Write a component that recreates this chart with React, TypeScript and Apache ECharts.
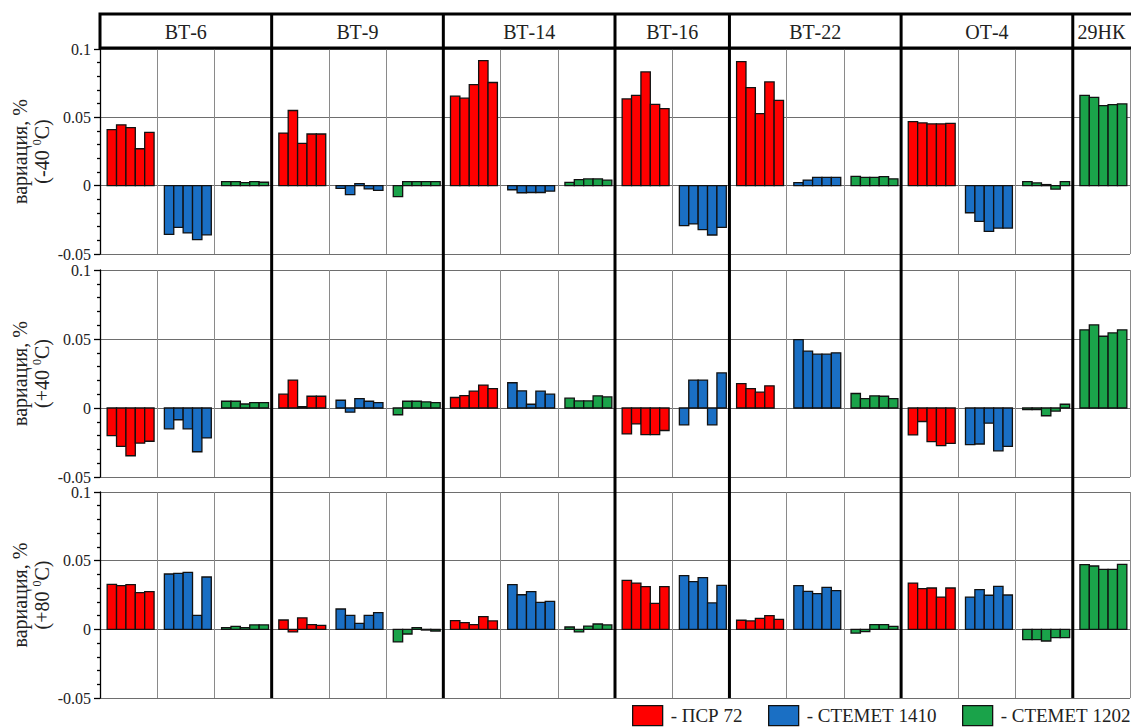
import React, { useEffect, useRef } from "react";
import * as echarts from "echarts";

const FONT = "'Times New Roman', 'Liberation Serif', 'DejaVu Serif', serif";

const groups = ["ВТ-6", "ВТ-9", "ВТ-14", "ВТ-16", "ВТ-22", "ОТ-4", "29НК"];
const materials = ["- ПСР 72", "- СТЕМЕТ 1410", "- СТЕМЕТ 1202"];
const materialColors = ["#ff0000", "#1a6fc4", "#1aa34a"];
// which materials are present in each group (indices into materials)
const groupMaterials = [[0, 1, 2], [0, 1, 2], [0, 1, 2], [0, 1], [0, 1, 2], [0, 1, 2], [2]];

const rowTitles = ["(-40 {sup|0}C)", "(+40 {sup|0}C)", "(+80 {sup|0}C)"];
const yTicks = [-0.05, 0, 0.05, 0.1];

// values per group (null = no cell), 5 samples each
// ---- -40 °C ----
const m40_psr72 = [
  [0.041, 0.0445, 0.0425, 0.027, 0.039],
  [0.0385, 0.055, 0.031, 0.0378, 0.0378],
  [0.0655, 0.064, 0.074, 0.0915, 0.0755],
  [0.0635, 0.066, 0.0832, 0.0595, 0.0563],
  [0.0907, 0.0717, 0.0527, 0.0759, 0.0624],
  [0.0468, 0.0459, 0.0452, 0.0452, 0.0456],
  null,
];
const m40_stemet1410 = [
  [-0.0356, -0.0305, -0.0346, -0.0395, -0.036],
  [-0.002, -0.0066, 0.0015, -0.0024, -0.0034],
  [-0.003, -0.0052, -0.005, -0.005, -0.004],
  [-0.0293, -0.028, -0.0322, -0.0361, -0.0305],
  [0.0022, 0.0041, 0.006, 0.006, 0.006],
  [-0.0198, -0.0261, -0.0334, -0.031, -0.031],
  null,
];
const m40_stemet1202 = [
  [0.003, 0.003, 0.0022, 0.003, 0.0025],
  [-0.008, 0.003, 0.003, 0.003, 0.003],
  [0.0024, 0.0044, 0.0049, 0.0049, 0.004],
  null,
  [0.0068, 0.006, 0.006, 0.0066, 0.005],
  [0.003, 0.002, 0.0008, -0.0025, 0.003],
  [0.066, 0.0646, 0.0585, 0.0593, 0.0598],
];
// ---- +40 °C ----
const p40_psr72 = [
  [-0.02, -0.0278, -0.0346, -0.0254, -0.0241],
  [0.01, 0.0202, 0.001, 0.0085, 0.0085],
  [0.0076, 0.009, 0.0122, 0.0166, 0.0141],
  [-0.0188, -0.0115, -0.0193, -0.0193, -0.0163],
  [0.0176, 0.0141, 0.0115, 0.0161, null],
  [-0.0195, -0.0098, -0.0244, -0.0273, -0.0256],
  null,
];
const p40_stemet1410 = [
  [-0.0151, -0.0085, -0.0151, -0.0317, -0.0217],
  [0.0056, -0.003, 0.0068, 0.0049, 0.0039],
  [0.0183, 0.0124, 0.0027, 0.0122, 0.01],
  [-0.0122, 0.0202, 0.0202, -0.0122, 0.0254],
  [0.0495, 0.0412, 0.039, 0.039, 0.04],
  [-0.0266, -0.0261, -0.011, -0.031, -0.0278],
  null,
];
const p40_stemet1202 = [
  [0.0049, 0.0049, 0.0029, 0.0039, 0.0039],
  [-0.0049, 0.0049, 0.0049, 0.0044, 0.0039],
  [0.0071, 0.0051, 0.0051, 0.0088, 0.008],
  null,
  [0.0105, 0.0068, 0.0088, 0.0085, 0.0068],
  [-0.0012, -0.0012, -0.0056, -0.0022, 0.0027],
  [0.0566, 0.0602, 0.052, 0.0544, 0.0566],
];
// ---- +80 °C ----
const p80_psr72 = [
  [0.0328, 0.0318, 0.0325, 0.0267, 0.0274],
  [0.0068, -0.0019, 0.0083, 0.0034, 0.0029],
  [0.0063, 0.0049, 0.0034, 0.0092, 0.0061],
  [0.0357, 0.0337, 0.0311, 0.0189, 0.0311],
  [0.0066, 0.0061, 0.008, 0.01, 0.0073],
  [0.0337, 0.0296, 0.0301, 0.0235, 0.0301],
  null,
];
const p80_stemet1410 = [
  [0.0403, 0.0408, 0.0415, 0.0102, 0.0381],
  [0.0148, 0.0102, 0.0044, 0.0102, 0.0121],
  [0.0325, 0.0252, 0.0274, 0.0197, 0.0204],
  [0.0391, 0.0347, 0.0376, 0.0192, 0.032],
  [0.0318, 0.0277, 0.026, 0.0306, 0.0282],
  [0.0235, 0.0289, 0.0248, 0.0313, 0.025],
  null,
];
const p80_stemet1202 = [
  [0.0012, 0.0022, 0.0012, 0.0032, 0.0032],
  [-0.0092, -0.0034, 0.0012, -0.0005, -0.0012],
  [0.0017, -0.0019, 0.0024, 0.0039, 0.0032],
  null,
  [-0.0027, -0.0017, 0.0034, 0.0034, 0.0022],
  [-0.0075, -0.0075, -0.0085, -0.0061, -0.0061],
  [0.0471, 0.0461, 0.0437, 0.0437, 0.0473],
];

const rowsData = [
  [m40_psr72, m40_stemet1410, m40_stemet1202],
  [p40_psr72, p40_stemet1410, p40_stemet1202],
  [p80_psr72, p80_stemet1410, p80_stemet1202],
];

// layout
const GRID_LEFT = 100;
const GRID_W = 1030;
const rowLayout = [
  { top: 49, height: 205 },
  { top: 270, height: 207 },
  { top: 492, height: 206 },
];
const HEADER_TOP = 14;
const HEADER_BOTTOM = 48;
const legendLefts = [632, 768, 962];

function buildOption() {
  const cellOf: number[][] = [];
  const groupStart: number[] = [];
  let c = 0;
  groupMaterials.forEach((mats, g) => {
    groupStart[g] = c;
    cellOf[g] = [];
    mats.forEach((m) => {
      cellOf[g][m] = c;
      c++;
    });
  });
  const nCells = c;
  groupStart.push(nCells);
  const cellW = GRID_W / nCells;

  const grids: any[] = [];
  const xAxes: any[] = [];
  const yAxes: any[] = [];
  const series: any[] = [];

  rowLayout.forEach((rl, r) => {
    grids.push({ left: GRID_LEFT, width: GRID_W, top: rl.top, height: rl.height });
    xAxes.push({
      gridIndex: r,
      type: "value",
      min: 0,
      max: nCells,
      interval: 1,
      axisLine: { show: false },
      axisTick: { show: false },
      axisLabel: { show: false },
      splitLine: { show: true, lineStyle: { color: "#8a8a8a", width: 1 } },
    });
    yAxes.push({
      gridIndex: r,
      type: "value",
      min: yTicks[0],
      max: yTicks[yTicks.length - 1],
      interval: 0.05,
      axisLine: { show: true, lineStyle: { color: "#000", width: 1.3 } },
      axisTick: { show: true, length: 6, lineStyle: { color: "#000", width: 1.3 } },
      minorTick: { show: true, splitNumber: 5, length: 3, lineStyle: { color: "#000", width: 1.3 } },
      axisLabel: { fontFamily: FONT, fontSize: 16, color: "#222", margin: 9 },
      splitLine: { show: true, lineStyle: { color: "#6e6e6e", width: 1 } },
    });
    materials.forEach((name, m) => {
      const data: number[][] = [];
      rowsData[r][m].forEach((vals, g) => {
        if (!vals) return;
        const cell = cellOf[g][m];
        vals.forEach((v, b) => {
          if (v === null || v === undefined) return;
          data.push([cell, b, v]);
        });
      });
      const color = materialColors[m];
      series.push({
        type: "custom",
        name,
        xAxisIndex: r,
        yAxisIndex: r,
        coordinateSystem: "cartesian2d",
        encode: { x: 0, y: 2 },
        itemStyle: { color, borderColor: "#111", borderWidth: 1 },
        renderItem: (params: any, api: any) => {
          const cell = api.value(0);
          const b = api.value(1);
          const v = api.value(2);
          const bw = 0.164;
          const x0 = cell + 0.125 + b * bw;
          const p0 = api.coord([x0, 0]);
          const p1 = api.coord([x0 + bw, v]);
          return {
            type: "rect",
            shape: {
              x: p0[0],
              y: Math.min(p0[1], p1[1]),
              width: p1[0] - p0[0],
              height: Math.abs(p1[1] - p0[1]),
            },
            style: { fill: color, stroke: "#111", lineWidth: 1.3 },
          };
        },
        data,
      });
    });
  });

  const graphic: any[] = [];
  graphic.push({
    type: "rect",
    z: 10,
    shape: { x: GRID_LEFT, y: HEADER_TOP, width: GRID_W + 4, height: HEADER_BOTTOM - HEADER_TOP },
    style: { fill: "none", stroke: "#000", lineWidth: 3 },
  });
  groups.forEach((g, i) => {
    const x0 = GRID_LEFT + groupStart[i] * cellW;
    const x1 = GRID_LEFT + groupStart[i + 1] * cellW;
    graphic.push({
      type: "text",
      z: 10,
      x: (x0 + x1) / 2,
      y: (HEADER_TOP + HEADER_BOTTOM) / 2 + 1,
      style: {
        text: g,
        fontFamily: FONT,
        fontSize: 20,
        fill: "#222",
        textAlign: "center",
        textVerticalAlign: "middle",
      },
    });
    if (i > 0) {
      graphic.push({
        type: "line",
        z: 10,
        shape: { x1: x0, y1: HEADER_TOP, x2: x0, y2: rowLayout[2].top + rowLayout[2].height },
        style: { stroke: "#000", lineWidth: 3 },
      });
    }
  });
  rowLayout.forEach((rl, r) => {
    graphic.push({
      type: "text",
      z: 10,
      x: 31,
      y: rl.top + rl.height / 2,
      rotation: Math.PI / 2,
      style: {
        text: "вариация, %\n" + rowTitles[r],
        fontFamily: FONT,
        fontSize: 20,
        lineHeight: 22,
        fill: "#222",
        textAlign: "center",
        textVerticalAlign: "middle",
        rich: {
          sup: { fontFamily: FONT, fontSize: 12, lineHeight: 12, fill: "#222", verticalAlign: "top" },
        },
      },
    });
  });

  const legends = materials.map((name, m) => ({
    data: [name],
    left: legendLefts[m],
    top: 705,
    padding: 0,
    itemWidth: 30,
    itemHeight: 20,
    icon: "rect",
    itemStyle: { borderColor: "#111", borderWidth: 1.3 },
    textStyle: { fontFamily: FONT, fontSize: 19, color: "#222", lineHeight: 20, padding: [0, 0, 0, 3] },
  }));

  return {
    animation: false,
    backgroundColor: "#ffffff",
    textStyle: { fontFamily: FONT },
    grid: grids,
    xAxis: xAxes,
    yAxis: yAxes,
    series,
    legend: legends,
    graphic,
  };
}

export default function App() {
  const ref = useRef<HTMLDivElement>(null);
  useEffect(() => {
    if (!ref.current) return;
    const chart = echarts.init(ref.current, null, { renderer: "svg" });
    chart.setOption(buildOption() as any);
    return () => chart.dispose();
  }, []);
  return (
    <div
      ref={ref}
      style={{ position: "fixed", left: 0, top: 0, width: 1131, height: 728, background: "#fff" }}
    />
  );
}
